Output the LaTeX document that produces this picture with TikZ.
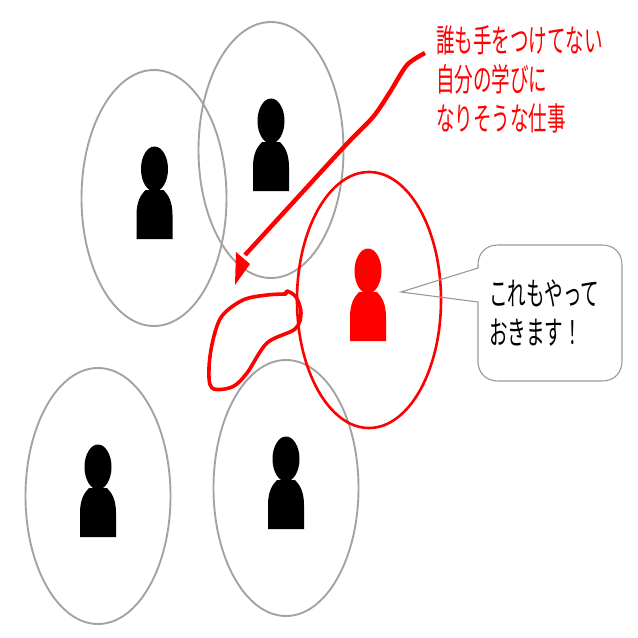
\documentclass[tikz,border=0pt]{standalone}
\usepackage{fontspec}
\newfontfamily\cjk{Noto Sans CJK JP}
\newcommand{\jp}[1]{\scalebox{0.58}[1]{\cjk\fontsize{32}{38}\selectfont #1}}
\tikzset{
  circ/.style={draw=black!36,line width=1.9pt},
  redcirc/.style={draw=red,line width=2.6pt},
  lab/.style={anchor=west,inner sep=0pt,outer sep=0pt},
  pics/person/.style={code={
    \fill[#1] (0,-70) ellipse[x radius=13.5,y radius=22.5];
    \fill[#1] (-18,0) -- (-18,-24) .. controls (-18,-37) and (-14,-44) .. (-9,-49)
      -- (9,-49) .. controls (14,-44) and (18,-37) .. (18,-24) -- (18,0) -- cycle;
  }}
}
\begin{document}
\begin{tikzpicture}[x=1pt,y=-1pt]
\useasboundingbox (0,0) rectangle (638,638);
% circles
\draw[circ] (154,198) ellipse[x radius=72.5,y radius=128];
\draw[circ] (271,150) ellipse[x radius=72.5,y radius=128];
\draw[circ] (98,496) ellipse[x radius=72.5,y radius=128];
\draw[circ] (286,488) ellipse[x radius=72.5,y radius=128];
\draw[redcirc] (369,300) ellipse[x radius=72,y radius=128];
% people
\pic at (154.5,239) {person=black};
\pic at (271,191) {person=black};
\pic at (98,537) {person=black};
\pic at (286,529) {person=black};
\pic at (368,341) {person=red};
% callout
\draw[draw=black!40,line width=1.1pt,line join=miter]
  (401,292) -- (478,268) -- (478,265) .. controls (478,253) and (486,245) .. (498,245)
  -- (602,245) .. controls (614,245) and (622,253) .. (622,265)
  -- (622,361) .. controls (622,373) and (614,381) .. (602,381)
  -- (498,381) .. controls (486,381) and (478,373) .. (478,361) -- (478,302) -- cycle;
% loop
\draw[red,line width=3.6pt,line cap=round,line join=round]
  plot[smooth,tension=0.55] coordinates {(286,294) (267,295) (243,300) (222,316) (213,340) (209,368) (212,388) (232,387) (247,373) (267,343) (295,329) (301,313) (296,297) (287,291) (286,294)};
% arrow
\coordinate (astart) at (425,53);
\coordinate (atip) at (235,285);
\draw[red,line width=4.4pt]
  plot[smooth,tension=0.5] coordinates {(astart) (407,65) (390,92) (373,117) (343,148) (245,255)};
\fill[red] (atip) -- (236,252) -- (250,264) -- cycle;
% text
\node[lab,red] (t1) at (436,40) {\jp{誰も手をつけてない}};
\node[lab,red] (t2) at (436,79) {\jp{自分の学びに}};
\node[lab,red] (t3) at (436,118) {\jp{なりそうな仕事}};
\node[lab] (c1) at (489,293) {\jp{これもやって}};
\node[lab] (c2) at (489,333) {\jp{おきます！}};
\end{tikzpicture}
\end{document}
